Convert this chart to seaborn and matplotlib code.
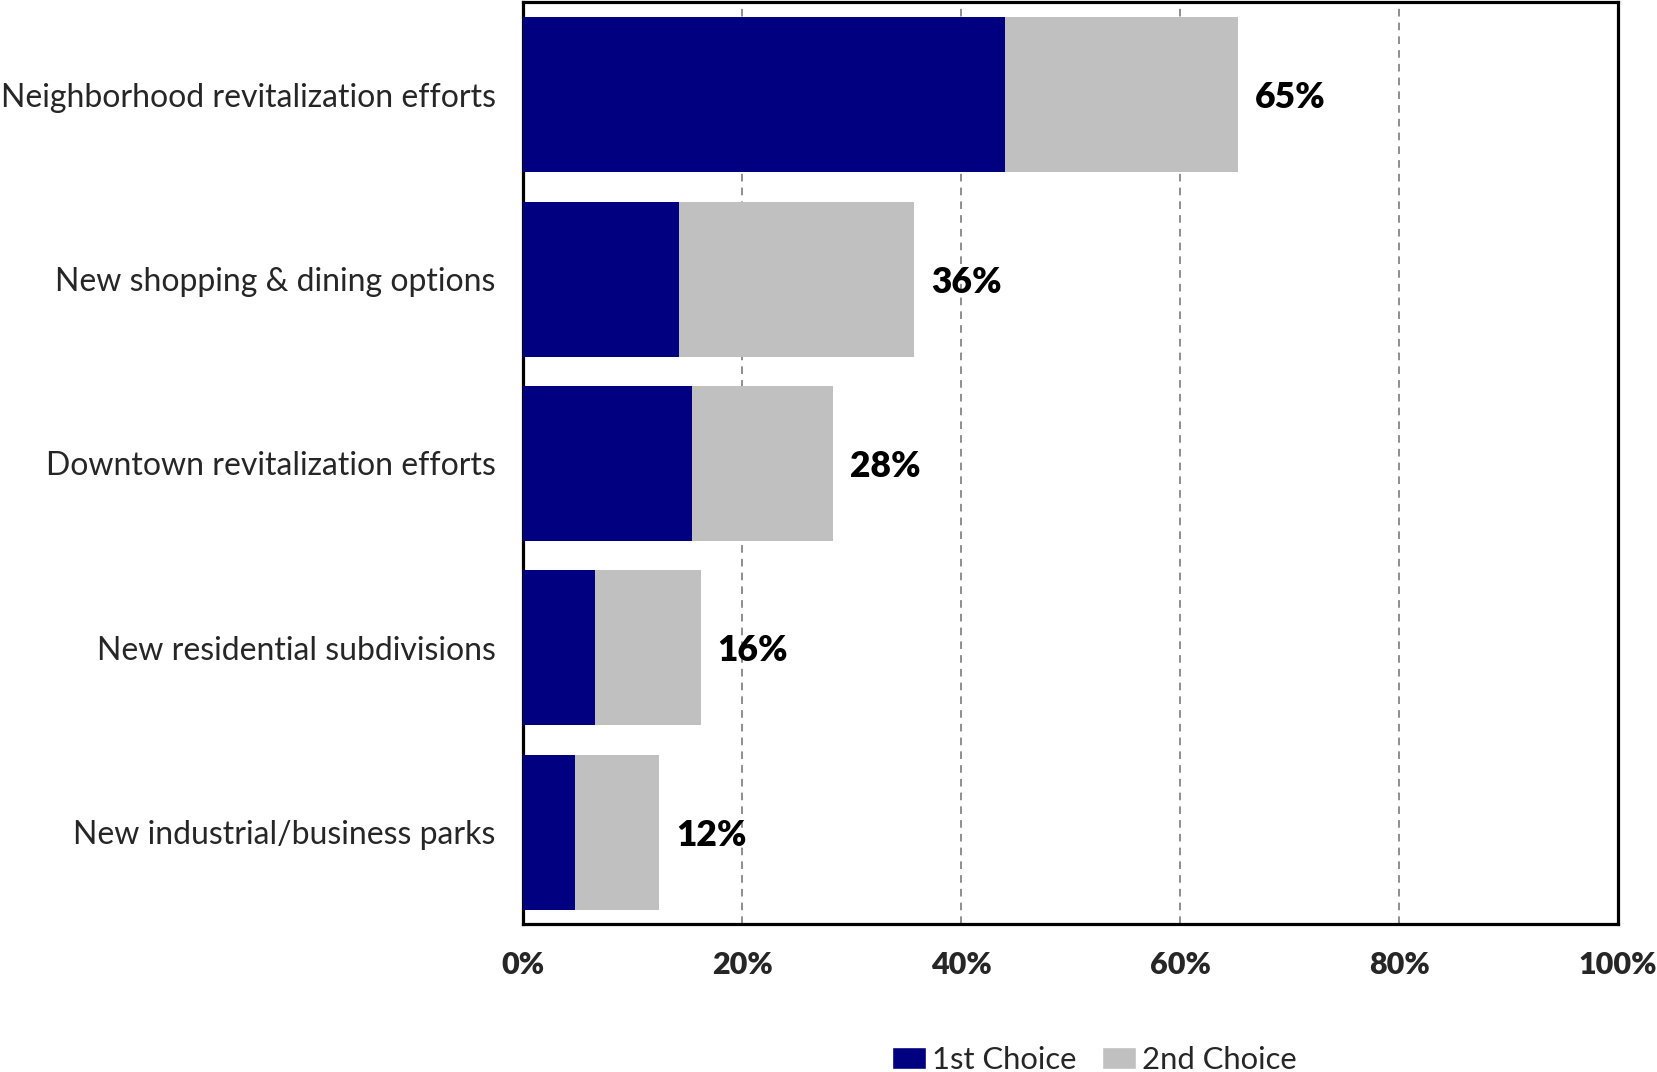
import seaborn as sns
import matplotlib.pyplot as plt
import pandas as pd
import numpy as np
from matplotlib.patches import Patch

# Chart data
categories = ['Neighborhood revitalization efforts',
              'New shopping & dining options',
              'Downtown revitalization efforts',
              'New residential subdivisions',
              'New industrial/business parks']
first_choice = [44.0, 14.2, 15.4, 6.5, 4.7]
second_choice = [21.3, 21.5, 12.9, 9.7, 7.7]
total_labels = [65, 36, 28, 16, 12]
x_ticks = [0, 20, 40, 60, 80, 100]

NAVY = '#000080'
GRAY = '#C0C0C0'

sns.set_theme(style='white')
plt.rcParams['font.family'] = ['Lato', 'DejaVu Sans']

df = pd.DataFrame({'category': categories,
                   'first': first_choice,
                   'second': second_choice})
df['total'] = df['first'] + df['second']

fig = plt.figure(figsize=(16.58, 10.72), dpi=100)
ax = fig.add_axes([0.3157, 0.1376, 0.9759 - 0.3157, 0.9977 - 0.1376])

# Stacked bars: draw totals in gray, then the 1st choice on top
sns.barplot(data=df, x='total', y='category', color=GRAY, orient='h',
            width=0.84, saturation=1, linewidth=0, ax=ax, zorder=2)
sns.barplot(data=df, x='first', y='category', color=NAVY, orient='h',
            width=0.84, saturation=1, linewidth=0, ax=ax, zorder=3)

# Total labels at the end of each bar
for i, (tot, lab) in enumerate(zip(df['total'], total_labels)):
    ax.annotate(f'{lab}%', xy=(tot, i), xytext=(12, 0),
                textcoords='offset points', va='center_baseline', ha='left',
                fontsize=25.5, fontweight='heavy', color='black', zorder=4)

ax.set_xlim(0, 100)
ax.set_ylim(len(categories) - 0.5, -0.5)
ax.set_xticks(x_ticks)
ax.set_xticklabels([f'{t}%' for t in x_ticks], fontsize=22, fontweight='heavy')
ax.tick_params(axis='x', length=0, pad=19)
ax.tick_params(axis='y', length=0, pad=20, labelsize=23)
ax.set_xlabel('')
ax.set_ylabel('')

# Dashed vertical gridlines
for t in x_ticks[1:-1]:
    ax.axvline(t, color='#707070', linestyle=(0, (5, 4)), linewidth=1.1, zorder=1)

for spine in ax.spines.values():
    spine.set_visible(True)
    spine.set_color('black')
    spine.set_linewidth(2.3)

# Legend below the chart
handles = [Patch(facecolor=NAVY, label='1st Choice'),
           Patch(facecolor=GRAY, label='2nd Choice')]
fig.legend(handles=handles, loc='center', bbox_to_anchor=(0.66, 0.0115),
           ncol=2, frameon=False, fontsize=22.3, handlelength=1.1,
           handleheight=0.7, handletextpad=0.2, columnspacing=0.8)

fig.savefig('out.png', dpi=100)
